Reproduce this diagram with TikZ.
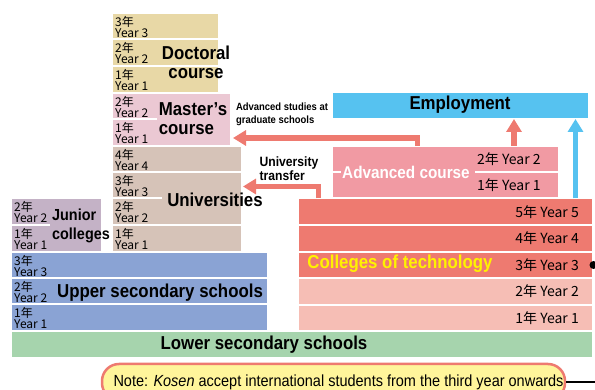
\documentclass[tikz,border=0pt]{standalone}
\usepackage{fontspec}
\setmainfont{Liberation Sans}
\newfontfamily\cond[FakeStretch=0.9]{Liberation Sans}
\newfontfamily\jp{Noto Sans CJK JP}
\usetikzlibrary{arrows.meta,calc}
\definecolor{cDoc}{HTML}{E8D8A6}
\definecolor{cMas}{HTML}{EBC8D3}
\definecolor{cUni}{HTML}{D6C3B8}
\definecolor{cJun}{HTML}{C4B2C6}
\definecolor{cUpp}{HTML}{8AA3D4}
\definecolor{cLow}{HTML}{A6D4AD}
\definecolor{cKd}{HTML}{EE7A70}
\definecolor{cKl}{HTML}{F6BEB5}
\definecolor{cAdv}{HTML}{F19AA3}
\definecolor{cEmp}{HTML}{56C2F0}
\definecolor{cNote}{HTML}{FFF59B}
\definecolor{cYel}{HTML}{FFF200}
\tikzset{
  blk/.style={draw=white, line width=2pt, inner sep=0pt, outer sep=0pt},
  yl/.style={font=\jp\fontsize{12}{11}\selectfont, align=left, inner sep=0pt, anchor=north west},
  kl/.style={font=\jp\fontsize{14}{14}\selectfont, inner sep=0pt},
  head/.style={font=\cond\bfseries\fontsize{18.7}{19}\selectfont, inner sep=0pt},
  small/.style={font=\cond\bfseries\fontsize{10.5}{13}\selectfont, inner sep=0pt, align=left},
  sal/.style={draw=cKd, line width=5.5pt, -{Triangle[width=15pt,length=13pt]}},
  blu/.style={draw=cEmp, line width=5.5pt, -{Triangle[width=15pt,length=13pt]}}
}
\newcommand\blk[6]{\node[blk,fill=#6,minimum width={#4-#2},minimum height={#5-#3},anchor=north west] (#1) at (#2,#3) {};}
\begin{document}
\begin{tikzpicture}[x=1pt,y=-1pt]
\useasboundingbox (0,0) rectangle (595,390);
% Doctoral
\blk{d3}{112}{13}{219}{39.5}{cDoc}
\blk{d2}{112}{39.5}{219}{66}{cDoc}
\blk{d1}{112}{66}{219}{93}{cDoc}
% Master
\blk{m2}{112}{93}{231}{119}{cMas}
\blk{m1}{112}{119}{231}{146}{cMas}
% Universities
\blk{u4}{112}{146}{242}{172.5}{cUni}
\blk{u3}{112}{172.5}{242}{198}{cUni}
\blk{u2}{112}{198}{242}{225}{cUni}
\blk{u1}{112}{225}{242}{252}{cUni}
% Junior
\blk{j2}{11}{198}{102}{225}{cJun}
\blk{j1}{11}{225}{102}{252}{cJun}
% Upper secondary
\blk{h3}{11}{252}{268}{278}{cUpp}
\blk{h2}{11}{278}{268}{304.5}{cUpp}
\blk{h1}{11}{304.5}{268}{331}{cUpp}
% Lower secondary
\blk{lo}{11}{331}{593}{358}{cLow}
% Colleges of technology
\blk{k5}{298}{198.5}{593}{225}{cKd}
\blk{k4}{298}{225}{593}{252}{cKd}
\blk{k3}{298}{252}{593}{278}{cKd}
\blk{k2}{298}{278}{593}{305}{cKl}
\blk{k1}{298}{305}{593}{331}{cKl}
% Advanced course
\blk{a2}{332}{146}{559}{172}{cAdv}
\blk{a1}{332}{172}{559}{198.5}{cAdv}
% Employment
\blk{emp}{332}{92}{589}{119}{cEmp}
% partial separators covered
\fill[cMas] (157,118) rectangle (230,120);
\fill[cUni] (162,197) rectangle (241,199);
\fill[cJun] (50,224) rectangle (101,226);
\fill[cAdv] (341,171) rectangle (475,173);
% year labels (two lines)
\node[yl] (ld3) at ($(d3.north west)+(3,3)$) {3年\\Year 3};
\node[yl] (ld2) at ($(d2.north west)+(3,3)$) {2年\\Year 2};
\node[yl] (ld1) at ($(d1.north west)+(3,3)$) {1年\\Year 1};
\node[yl] (lm2) at ($(m2.north west)+(3,3)$) {2年\\Year 2};
\node[yl] (lm1) at ($(m1.north west)+(3,3)$) {1年\\Year 1};
\node[yl] (lu4) at ($(u4.north west)+(3,3)$) {4年\\Year 4};
\node[yl] (lu3) at ($(u3.north west)+(3,3)$) {3年\\Year 3};
\node[yl] (lu2) at ($(u2.north west)+(3,3)$) {2年\\Year 2};
\node[yl] (lu1) at ($(u1.north west)+(3,3)$) {1年\\Year 1};
\node[yl] (lj2) at ($(j2.north west)+(3,3)$) {2年\\Year 2};
\node[yl] (lj1) at ($(j1.north west)+(3,3)$) {1年\\Year 1};
\node[yl] (lh3) at ($(h3.north west)+(3,3)$) {3年\\Year 3};
\node[yl] (lh2) at ($(h2.north west)+(3,3)$) {2年\\Year 2};
\node[yl] (lh1) at ($(h1.north west)+(3,3)$) {1年\\Year 1};
% one-line labels
\node[kl,anchor=east] (lk5) at ($(k5.east)+(-14,0)$) {5年 Year 5};
\node[kl,anchor=east] (lk4) at ($(k4.east)+(-14,0)$) {4年 Year 4};
\node[kl,anchor=east] (lk3) at ($(k3.east)+(-14,0)$) {3年 Year 3};
\node[kl,anchor=east] (lk2) at ($(k2.east)+(-14,0)$) {2年 Year 2};
\node[kl,anchor=east] (lk1) at ($(k1.east)+(-14,0)$) {1年 Year 1};
\node[kl,anchor=west] (la2) at ($(a2.west)+(145,0)$) {2年 Year 2};
\node[kl,anchor=west] (la1) at ($(a1.west)+(145,0)$) {1年 Year 1};
% headings
\node[head,align=center] (tDoc) at (196,62.5) {Doctoral\\course};
\node[head,align=left] (tMas) at (193,119) {Master’s\\course};
\node[head] (tUni) at (215,200) {Universities};
\node[head,align=left,font=\cond\bfseries\fontsize{16}{19}\selectfont] (tJun) at (81,225.5) {Junior\\colleges};
\node[head] (tUpp) at (160,293) {Upper secondary schools};
\node[head] (tLow) at (264,345) {Lower secondary schools};
\node[head] (tEmp) at (460,105) {Employment};
\node[head,text=white,font=\cond\bfseries\fontsize{17}{19}\selectfont] (tAdv) at (406,172) {Advanced course};
\node[head,text=cYel] (tKos) at (400,264) {Colleges of technology};
% arrows
\coordinate (gsEnd) at (233,138);
\coordinate (utEnd) at (243,186.5);
\draw[sal] ($(a2.north)+(-28,0)$) |- (gsEnd);
\draw[sal] ($(k5.north)+(-127,0)$) |- (utEnd);
\draw[sal] ($(a2.north)+(68.5,0)$) coordinate (p) -- (p |- emp.south);
\draw[blu] ($(k5.north)+(130,0)$) coordinate (q) -- (q |- emp.south);
\node[small] (tGs) at (282,114) {Advanced studies at\\graduate schools};
\node[small,font=\cond\bfseries\fontsize{13.5}{14}\selectfont] (tUt) at (289,169) {University\\transfer};
% note
\node[circle,fill=black,inner sep=0pt,minimum size=8pt] (dot) at (593.5,265) {};
\node[draw=cKd,fill=cNote,line width=2.5pt,rounded corners=17pt,minimum width=463pt,minimum height=36pt,inner sep=0pt,font=\cond\fontsize{16.1}{17}\selectfont] (note) at (333.5,382) {\hspace*{10pt}Note: \textit{Kosen} accept international students from the third year onwards};
\coordinate (nc) at (600,382);
\draw[line width=1.3pt] (note.east) -- (nc) |- (dot.east);
\end{tikzpicture}
\end{document}
